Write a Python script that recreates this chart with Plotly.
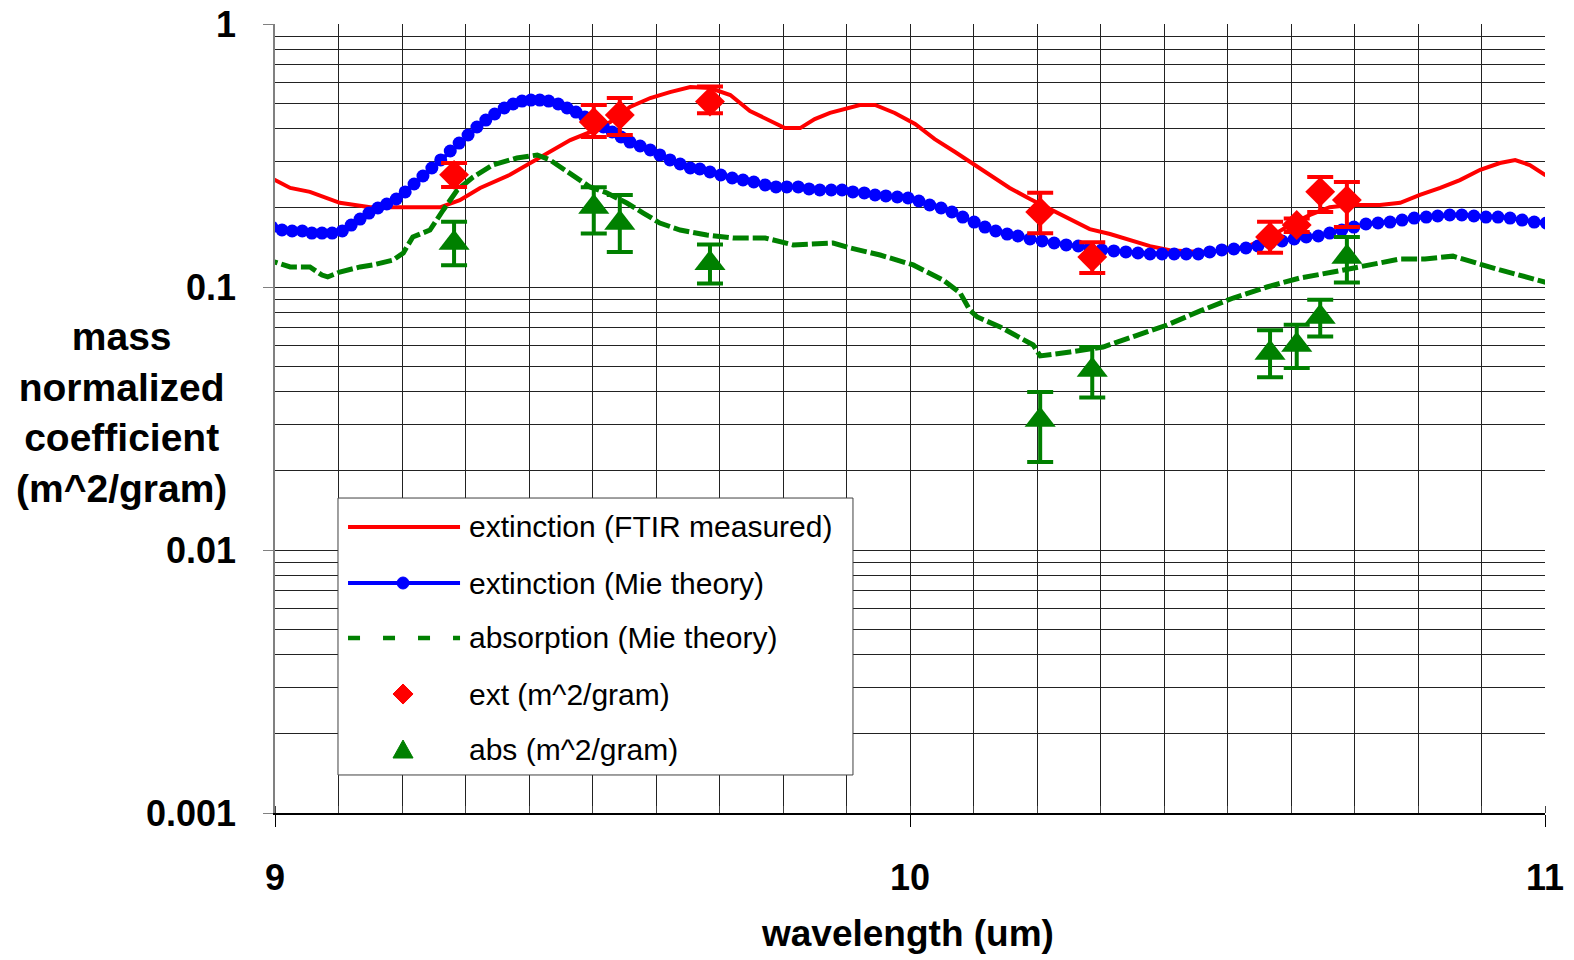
import plotly.graph_objects as go

# ---------------- data ----------------
ftir_wl = [8.980, 9.000, 9.024, 9.055, 9.102, 9.150, 9.197, 9.260, 9.291, 9.323,
           9.370, 9.402, 9.433, 9.465, 9.496, 9.528, 9.559, 9.591, 9.622, 9.654,
           9.685, 9.717, 9.748, 9.780, 9.803, 9.827, 9.850, 9.874, 9.898, 9.921,
           9.945, 9.976, 10.008, 10.039, 10.071, 10.102, 10.126, 10.157, 10.189, 10.220,
           10.252, 10.283, 10.315, 10.346, 10.378, 10.409, 10.457, 10.504, 10.535, 10.567,
           10.598, 10.630, 10.661, 10.693, 10.740, 10.772, 10.803, 10.835, 10.866, 10.898,
           10.929, 10.953, 10.976, 11.000, 11.031]
ftir_ext = [0.274, 0.255, 0.238, 0.230, 0.209, 0.201, 0.201, 0.201, 0.214, 0.238,
            0.267, 0.296, 0.326, 0.362, 0.388, 0.424, 0.484, 0.523, 0.551, 0.576,
            0.571, 0.537, 0.467, 0.428, 0.402, 0.402, 0.435, 0.459, 0.475, 0.492,
            0.492, 0.459, 0.417, 0.365, 0.326, 0.291, 0.264, 0.238, 0.216, 0.198,
            0.181, 0.166, 0.159, 0.151, 0.143, 0.138, 0.136, 0.138, 0.144, 0.155,
            0.172, 0.188, 0.201, 0.205, 0.205, 0.209, 0.224, 0.238, 0.255, 0.279,
            0.296, 0.304, 0.291, 0.267, 0.255]

mie_wl = [8.980, 8.995, 9.011, 9.027, 9.043, 9.058, 9.074, 9.090, 9.106, 9.120,
          9.134, 9.148, 9.162, 9.176, 9.191, 9.205, 9.219, 9.233, 9.247, 9.261,
          9.276, 9.290, 9.304, 9.318, 9.332, 9.346, 9.361, 9.375, 9.389, 9.403,
          9.417, 9.431, 9.446, 9.460, 9.474, 9.488, 9.502, 9.517, 9.531, 9.545,
          9.559, 9.575, 9.591, 9.606, 9.622, 9.638, 9.654, 9.669, 9.685, 9.702,
          9.720, 9.737, 9.754, 9.772, 9.789, 9.806, 9.824, 9.841, 9.858, 9.876,
          9.893, 9.910, 9.928, 9.945, 9.962, 9.980, 9.997, 10.014, 10.031, 10.049,
          10.066, 10.083, 10.101, 10.118, 10.135, 10.153, 10.170, 10.189, 10.208, 10.227,
          10.246, 10.265, 10.283, 10.302, 10.321, 10.340, 10.359, 10.378, 10.397, 10.416,
          10.435, 10.454, 10.472, 10.491, 10.510, 10.529, 10.548, 10.567, 10.586, 10.605,
          10.624, 10.643, 10.661, 10.680, 10.699, 10.718, 10.737, 10.756, 10.775, 10.794,
          10.813, 10.831, 10.850, 10.869, 10.888, 10.907, 10.926, 10.945, 10.964, 10.983,
          11.002, 11.035]
mie_ext = [0.1766, 0.1690, 0.1647, 0.1633, 0.1633, 0.1604, 0.1604, 0.1604, 0.1633, 0.1720,
           0.1813, 0.1911, 0.1997, 0.2068, 0.2161, 0.2298, 0.2464, 0.2643, 0.2835, 0.3041,
           0.3289, 0.3527, 0.3784, 0.4058, 0.4314, 0.4547, 0.4792, 0.4963, 0.5094, 0.5139,
           0.5139, 0.5094, 0.4963, 0.4792, 0.4627, 0.4429, 0.4240, 0.4058, 0.3884, 0.3718,
           0.3558, 0.3436, 0.3318, 0.3177, 0.3041, 0.2936, 0.2835, 0.2810, 0.2737, 0.2666,
           0.2597, 0.2552, 0.2508, 0.2443, 0.2401, 0.2401, 0.2401, 0.2359, 0.2338, 0.2338,
           0.2338, 0.2298, 0.2278, 0.2238, 0.2219, 0.2199, 0.2180, 0.2123, 0.2050, 0.1997,
           0.1928, 0.1845, 0.1766, 0.1690, 0.1633, 0.1590, 0.1563, 0.1522, 0.1496, 0.1470,
           0.1445, 0.1432, 0.1407, 0.1383, 0.1371, 0.1359, 0.1347, 0.1335, 0.1335, 0.1335,
           0.1335, 0.1335, 0.1359, 0.1383, 0.1395, 0.1407, 0.1432, 0.1470, 0.1496, 0.1522,
           0.1549, 0.1563, 0.1604, 0.1647, 0.1690, 0.1736, 0.1751, 0.1766, 0.1797, 0.1829,
           0.1845, 0.1862, 0.1878, 0.1878, 0.1862, 0.1845, 0.1845, 0.1829, 0.1797, 0.1766,
           0.1751, 0.1676]

abs_wl = [8.980, 9.000, 9.024, 9.055, 9.074, 9.083, 9.102, 9.134, 9.154, 9.186,
          9.202, 9.217, 9.244, 9.265, 9.287, 9.312, 9.343, 9.381, 9.413, 9.433,
          9.465, 9.496, 9.523, 9.554, 9.580, 9.606, 9.638, 9.680, 9.721, 9.772,
          9.816, 9.879, 9.906, 9.953, 10.005, 10.052, 10.079, 10.094, 10.106, 10.142,
          10.194, 10.205, 10.252, 10.304, 10.354, 10.405, 10.457, 10.509, 10.562, 10.614,
          10.666, 10.720, 10.772, 10.811, 10.855, 10.929, 11.000, 11.035]
abs_mie = [0.1289, 0.1245, 0.1192, 0.1192, 0.1110, 0.1092, 0.1140, 0.1192, 0.1213, 0.1266,
           0.1347, 0.1549, 0.1647, 0.1963, 0.2338, 0.2620, 0.2910, 0.3094, 0.3177, 0.3041,
           0.2714, 0.2401, 0.2278, 0.2086, 0.1911, 0.1751, 0.1647, 0.1576, 0.1536, 0.1536,
           0.1445, 0.1470, 0.1407, 0.1323, 0.1213, 0.1063, 0.0949, 0.0818, 0.0769, 0.0705,
           0.0602, 0.0547, 0.0566, 0.0591, 0.0651, 0.0717, 0.0811, 0.0908, 0.1000, 0.1082,
           0.1140, 0.1213, 0.1278, 0.1278, 0.1310, 0.1161, 0.1035, 0.0991]

pts_wl = [9.282, 9.502, 9.543, 9.685, 10.205, 10.287, 10.567, 10.609, 10.646, 10.688]
ext_meas = [0.267, 0.424, 0.451, 0.507, 0.193, 0.130, 0.155, 0.172, 0.230, 0.214]
ext_err_plus = [0.029, 0.068, 0.072, 0.071, 0.035, 0.018, 0.022, 0.010, 0.032, 0.037]
ext_err_minus = [0.027, 0.052, 0.073, 0.049, 0.033, 0.017, 0.020, 0.010, 0.037, 0.045]
abs_meas = [0.147, 0.2016, 0.175, 0.123, 0.0312, 0.0484, 0.0561, 0.0602, 0.0769, 0.130]
abs_err_plus = [0.030, 0.038, 0.049, 0.022, 0.0087, 0.0108, 0.0124, 0.0117, 0.0125, 0.025]
abs_err_minus = [0.026, 0.042, 0.039, 0.020, 0.0096, 0.0104, 0.0107, 0.011, 0.012, 0.026]

y_tickvals = [0.001, 0.01, 0.1, 1]
y_ticktext = ["0.001", "0.01", "0.1", "1"]
x_tickvals = [9, 10, 11]
x_ticktext = ["9", "10", "11"]

legend_labels = ["extinction (FTIR measured)", "extinction (Mie theory)",
                 "absorption (Mie theory)", "ext (m^2/gram)", "abs (m^2/gram)"]

RED, BLUE, GREEN = "#FF0000", "#0000FF", "#008000"
FONT = "Liberation Sans, Arial, sans-serif"

fig = go.Figure()
fig.add_trace(go.Scatter(x=ftir_wl, y=ftir_ext, mode="lines", name=legend_labels[0],
                         line=dict(color=RED, width=4), showlegend=False))
fig.add_trace(go.Scatter(x=mie_wl, y=mie_ext, mode="lines+markers", name=legend_labels[1],
                         line=dict(color=BLUE, width=4),
                         marker=dict(color=BLUE, size=13, symbol="circle"), showlegend=False))
fig.add_trace(go.Scatter(x=abs_wl, y=abs_mie, mode="lines", name=legend_labels[2],
                         line=dict(color=GREEN, width=5, dash="16px,4px"), showlegend=False))
fig.add_trace(go.Scatter(x=pts_wl, y=ext_meas, mode="markers", name=legend_labels[3],
                         marker=dict(color=RED, size=23, symbol="diamond"),
                         error_y=dict(type="data", symmetric=False, array=ext_err_plus,
                                      arrayminus=ext_err_minus, color=RED, thickness=4, width=13),
                         showlegend=False))
fig.add_trace(go.Scatter(x=pts_wl, y=abs_meas, mode="markers", name=legend_labels[4],
                         marker=dict(color=GREEN, size=27, symbol="triangle-up"),
                         error_y=dict(type="data", symmetric=False, array=abs_err_plus,
                                      arrayminus=abs_err_minus, color=GREEN, thickness=4, width=13),
                         showlegend=False))

# minor log grid values
minor_y = [m * 10.0 ** e for e in (-3, -2, -1) for m in range(2, 10)]

fig.update_layout(
    width=1574, height=960,
    margin=dict(l=275, r=29, t=24, b=147, autoexpand=False),
    paper_bgcolor="white", plot_bgcolor="white",
    font=dict(family=FONT, color="black"),
    xaxis=dict(range=[9, 11], tickvals=x_tickvals, ticktext=x_ticktext, automargin=False,
               ticklabeloverflow="allow",
               ticks="outside", ticklen=12, tickcolor="black", tickwidth=1,
               showline=True, linecolor="black", linewidth=1.5, mirror=False,
               showgrid=True, gridcolor="#222222", gridwidth=1, zeroline=False,
               tickfont=dict(size=36, family=FONT, weight="bold", color="black"),
               ticklabelstandoff=20,
               minor=dict(dtick=0.1, tick0=9, showgrid=True, gridcolor="#222222",
                          gridwidth=1, ticks="inside", ticklen=7, tickcolor="#444444")),
    yaxis=dict(type="log", range=[-3, 0], tickvals=y_tickvals, ticktext=y_ticktext, automargin=False,
               ticklabeloverflow="allow",
               ticks="outside", ticklen=10, tickcolor="#808080", tickwidth=1,
               showline=True, linecolor="#808080", linewidth=1.5,
               showgrid=True, gridcolor="#222222", gridwidth=1, zeroline=False,
               tickfont=dict(size=36, family=FONT, weight="bold", color="black"),
               ticklabelstandoff=20,
               minor=dict(tickvals=minor_y, showgrid=True, gridcolor="#222222",
                          gridwidth=1, ticks="")),
)

# axis titles
fig.add_annotation(text="mass<br>normalized<br>coefficient<br>(m^2/gram)",
                   xref="paper", yref="paper", x=-0.1205, y=0.508,
                   xanchor="center", yanchor="middle", showarrow=False, align="center",
                   font=dict(size=39, family=FONT, weight="bold", color="black"))
fig.add_annotation(text="wavelength (um)", xref="paper", yref="paper", x=0.498, y=-0.1521,
                   xanchor="center", yanchor="middle", showarrow=False,
                   font=dict(size=37, family=FONT, weight="bold", color="black"))

# ---------------- legend box (drawn manually, paper coordinates) ----------------
fig.add_shape(type="rect", xref="paper", yref="paper", x0=0.0496, x1=0.4551, y0=0.0482, y1=0.3992,
              line=dict(color="#404040", width=1), fillcolor="white", layer="above")
row_y = [0.3625, 0.2915, 0.2218, 0.1508, 0.0811]
sx0, sx1, sxm, tx = 0.0575, 0.1457, 0.1008, 0.1512
fig.add_shape(type="line", xref="paper", yref="paper", x0=sx0, x1=sx1, y0=row_y[0], y1=row_y[0],
              line=dict(color=RED, width=4), layer="above")
fig.add_shape(type="line", xref="paper", yref="paper", x0=sx0, x1=sx1, y0=row_y[1], y1=row_y[1],
              line=dict(color=BLUE, width=4), layer="above")
fig.add_shape(type="circle", xref="paper", yref="paper", x0=sxm - 0.0047, x1=sxm + 0.0047,
              y0=row_y[1] - 0.0076, y1=row_y[1] + 0.0076,
              line=dict(color=BLUE, width=1), fillcolor=BLUE, layer="above")
fig.add_shape(type="line", xref="paper", yref="paper", x0=sx0, x1=sx1, y0=row_y[2], y1=row_y[2],
              line=dict(color=GREEN, width=4.5, dash="12px,23px"), layer="above")
dx, dy = 0.0079, 0.0127
fig.add_shape(type="path", xref="paper", yref="paper",
              path=f"M{sxm - dx},{row_y[3]} L{sxm},{row_y[3] + dy} L{sxm + dx},{row_y[3]} L{sxm},{row_y[3] - dy} Z",
              line=dict(color=RED, width=1), fillcolor=RED, layer="above")
fig.add_shape(type="path", xref="paper", yref="paper",
              path=f"M{sxm - dx},{row_y[4] - 0.0114} L{sxm + dx},{row_y[4] - 0.0114} L{sxm},{row_y[4] + 0.0114} Z",
              line=dict(color=GREEN, width=1), fillcolor=GREEN, layer="above")
for lab, yy in zip(legend_labels, row_y):
    fig.add_annotation(text=lab, xref="paper", yref="paper", x=tx, y=yy,
                       xanchor="left", yanchor="middle", showarrow=False,
                       font=dict(size=30, family=FONT, color="black"))

# remove the browser's default 8px body margin so the figure fills the window exactly
fig.write_html("out.html", config={"displayModeBar": False},
               post_script="document.body.style.margin='0';document.body.style.overflow='hidden';")
